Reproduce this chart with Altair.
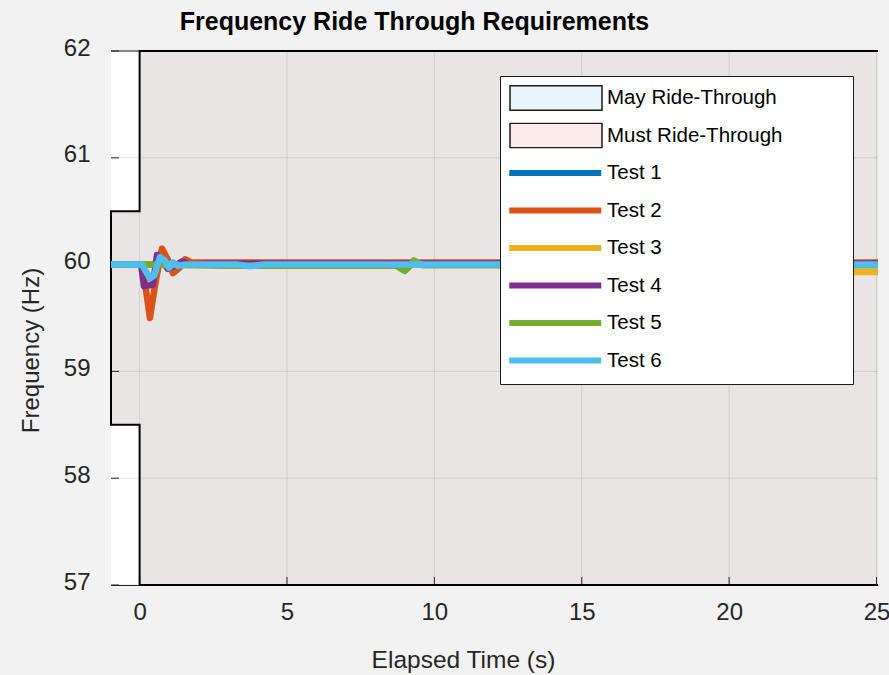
import altair as alt
import pandas as pd

FONT = "Liberation Sans"
TXT = "#262626"

# axis ranges / ticks
X_MIN, X_MAX = -0.97, 25.05
Y_MIN, Y_MAX = 57, 62
x_ticks = [0, 5, 10, 15, 20, 25]
y_ticks = [57, 58, 59, 60, 61, 62]

# legend entries and colours
patch_names = ["May Ride-Through", "Must Ride-Through"]
patch_colors = ["#EAF5FB", "#FBECE7"]
test_names = ["Test 1", "Test 2", "Test 3", "Test 4", "Test 5", "Test 6"]
test_colors = ["#0072BD", "#D95319", "#EDB120", "#7E2F8E", "#77AC30", "#4DBEEE"]
frame_names = ["frame"]

# axes background, ride-through region (rectangles) and its outline
axes_x, axes_x2, axes_y, axes_y2 = [X_MIN], [X_MAX], [Y_MIN], [Y_MAX]
region_x = [X_MIN, 0.0]
region_x2 = [0.0, X_MAX]
region_y = [58.5, 57.0]
region_y2 = [60.5, 62.0]
outline_t = [X_MAX, 0.0, 0.0, X_MIN, X_MIN, 0.0, 0.0, X_MAX]
outline_f = [62.0, 62.0, 60.5, 60.5, 58.5, 58.5, 57.0, 57.0]
box_top_t = [X_MIN]
box_top_t2 = [0.0]
box_top_f = [62.0]

# measured test traces
test1_t = [-0.97, 25.05]
test1_f = [60.0, 60.0]
test2_t = [-0.97, 0.1, 0.35, 0.55, 0.76, 0.95, 1.13, 1.35, 1.54, 1.75, 2.2, 25.05]
test2_f = [60.0, 60.0, 59.5, 59.85, 60.15, 60.05, 59.92, 59.97, 60.05, 60.02, 60.02, 60.02]
test3_t = [-0.97, 19.5, 19.8, 25.05]
test3_f = [60.0, 60.0, 59.93, 59.93]
test4_t = [-0.97, 0.05, 0.15, 0.45, 0.59, 0.8, 0.96, 1.2, 1.44, 1.7, 2.5, 25.05]
test4_f = [60.0, 60.0, 59.80, 59.81, 60.09, 60.02, 59.96, 59.99, 60.03, 60.0, 60.01, 60.01]
test5_t = [-0.97, 0.1, 3.0, 8.7, 9.0, 9.15, 9.3, 9.6, 25.05]
test5_f = [60.0, 60.0, 59.99, 59.99, 59.94, 59.98, 60.04, 59.995, 59.995]
test6_t = [-0.97, 0.08, 0.35, 0.5, 0.69, 0.85, 1.0, 1.13, 1.3, 1.6, 3.3, 3.75, 4.2, 25.05]
test6_f = [60.0, 60.0, 59.87, 59.90, 60.07, 60.04, 59.97, 60.02, 59.99, 60.0, 60.0, 59.985, 60.0, 60.0]

W, H = 767, 534

xs = alt.Scale(domain=[X_MIN, X_MAX], nice=False, zero=False)
ys = alt.Scale(domain=[Y_MIN, Y_MAX], nice=False, zero=False)

axes_df = pd.DataFrame({"x": axes_x, "x2": axes_x2, "y": axes_y, "y2": axes_y2})
region_df = pd.DataFrame({"x": region_x, "x2": region_x2, "y": region_y, "y2": region_y2})
outline_df = pd.DataFrame({"t": outline_t, "f": outline_f, "o": list(range(len(outline_t)))})
boxtop_df = pd.DataFrame({"t": box_top_t, "t2": box_top_t2, "f": box_top_f})
xt_df = pd.DataFrame({"t": x_ticks})
yt_df = pd.DataFrame({"f": y_ticks})
patch_df = pd.DataFrame({"name": patch_names})
frame_df = pd.DataFrame({"box": frame_names})

rows = []
for name, tt, ff in zip(test_names,
                        [test1_t, test2_t, test3_t, test4_t, test5_t, test6_t],
                        [test1_f, test2_f, test3_f, test4_f, test5_f, test6_f]):
    for a, b in zip(tt, ff):
        rows.append({"series": name, "t": a, "f": b})
lines_df = pd.DataFrame(rows)

x_axis = alt.Axis(values=x_ticks, format="d", grid=False, ticks=False, domain=True,
                  domainColor=TXT, domainWidth=1, labelFont=FONT, labelFontSize=24,
                  labelColor=TXT, labelPadding=15, labelFlush=False, labelOverlap=False,
                  title="Elapsed Time (s)", titleFont=FONT, titleFontSize=24.5,
                  titleFontWeight="normal", titleColor=TXT, titleX=352, titleY=82,
                  titleAlign="center", titleBaseline="alphabetic")
y_axis = alt.Axis(values=y_ticks, format="d", grid=False, ticks=False, domain=True,
                  domainColor=TXT, domainWidth=1, labelFont=FONT, labelFontSize=24,
                  labelColor=TXT, labelPadding=21, labelOffset=-3, labelFlush=False,
                  labelOverlap=False,
                  title="Frequency (Hz)", titleFont=FONT, titleFontSize=24,
                  titleFontWeight="normal", titleColor=TXT, titleX=-73, titleY=299,
                  titleAngle=270, titleAlign="center", titleBaseline="alphabetic")

axes_bg = alt.Chart(axes_df).mark_rect(color="#FFFFFF").encode(
    x=alt.X("x:Q", scale=xs, axis=x_axis),
    x2="x2:Q",
    y=alt.Y("y:Q", scale=ys, axis=y_axis),
    y2="y2:Q",
)

fill = alt.Chart(region_df).mark_rect(color="#E9E5E4", clip=True).encode(
    x=alt.X("x:Q", scale=xs),
    x2="x2:Q",
    y=alt.Y("y:Q", scale=ys),
    y2="y2:Q",
)

vgrid = alt.Chart(xt_df).mark_rule(color=TXT, opacity=0.13, strokeWidth=1).encode(
    x=alt.X("t:Q", scale=xs))
hgrid = alt.Chart(yt_df).mark_rule(color=TXT, opacity=0.13, strokeWidth=1).encode(
    y=alt.Y("f:Q", scale=ys))

xtick = alt.Chart(xt_df).mark_rule(color=TXT, strokeWidth=1).encode(
    x=alt.X("t:Q", scale=xs), y=alt.value(H), y2=alt.value(H - 8))
ytick = alt.Chart(yt_df).mark_rule(color=TXT, strokeWidth=1).encode(
    y=alt.Y("f:Q", scale=ys), x=alt.value(0), x2=alt.value(8))

boxtop = alt.Chart(boxtop_df).mark_rule(color=TXT, strokeWidth=1).encode(
    x=alt.X("t:Q", scale=xs), x2="t2:Q", y=alt.Y("f:Q", scale=ys))

outline = alt.Chart(outline_df).mark_line(color="black", strokeWidth=2, strokeJoin="miter").encode(
    x=alt.X("t:Q", scale=xs),
    y=alt.Y("f:Q", scale=ys),
    order="o:Q",
)

# legend frame: one blank entry whose symbol sets the size of the bordered white box
legend_frame = alt.Legend(
    title=None, orient="none", legendX=389, legendY=25, padding=9, zindex=1,
    fillColor="white", strokeColor="#1a1a1a",
    symbolSize=335 * 335, symbolStrokeWidth=0, symbolOpacity=1,
    symbolFillColor="white", symbolStrokeColor="white",
    labelExpr="''", labelOffset=0, labelFontSize=20, clipHeight=290,
)

legend_a = alt.Legend(
    title=None, orient="none", legendX=398, legendY=34, padding=0, zindex=2,
    symbolSize=8464, symbolStrokeWidth=1.5, symbolOpacity=1,
    symbolType="M-1,-0.266H1V0.266H-1Z", symbolStrokeColor="#1a1a1a",
    labelFont=FONT, labelFontSize=20.5, labelColor="black", labelOffset=4,
    labelLimit=600, rowPadding=11.5, clipHeight=26, gridAlign="all", columns=1,
)

legend_b = alt.Legend(
    title=None, orient="none", legendX=395.25, legendY=109, padding=0, zindex=3,
    symbolSize=8464, symbolStrokeWidth=6, symbolOpacity=1, symbolType="stroke",
    labelFont=FONT, labelFontSize=20.5, labelColor="black", labelOffset=2.75,
    labelLimit=600, rowPadding=11.5, clipHeight=26, gridAlign="all", columns=1,
)

# invisible layers that carry the legend frame and the patch legend
frame_layer = alt.Chart(frame_df).mark_point(filled=True, size=0, color="white").encode(
    shape=alt.Shape("box:N", scale=alt.Scale(domain=frame_names,
                                             range=["M-1,-0.866H1V0.866H-1Z"]),
                    legend=legend_frame),
)

patch_layer = alt.Chart(patch_df).mark_point(filled=True, size=0).encode(
    fill=alt.Fill("name:N", scale=alt.Scale(domain=patch_names, range=patch_colors),
                  legend=legend_a),
)

lines = alt.Chart(lines_df).mark_line(strokeWidth=6.5, strokeJoin="round", clip=True).encode(
    x=alt.X("t:Q", scale=xs),
    y=alt.Y("f:Q", scale=ys),
    stroke=alt.Stroke("series:N", scale=alt.Scale(domain=test_names, range=test_colors),
                      legend=legend_b),
)

chart = alt.layer(axes_bg, fill, vgrid, hgrid, xtick, ytick, boxtop, outline, lines,
                  frame_layer, patch_layer).properties(
    width=W, height=H,
    background="#F2F2F2",
    padding={"left": 111, "top": 51, "right": 11, "bottom": 90},
    autosize=alt.AutoSizeParams(type="none"),
    title=alt.TitleParams(
        text="Frequency Ride Through Requirements", font=FONT, fontSize=25,
        fontWeight="bold", color="black", anchor="middle", dx=-80, dy=26,
        baseline="alphabetic", offset=7),
).configure_view(fill="white", stroke="transparent")

chart.save("out.html", embed_options={"renderer": "svg", "actions": False})
